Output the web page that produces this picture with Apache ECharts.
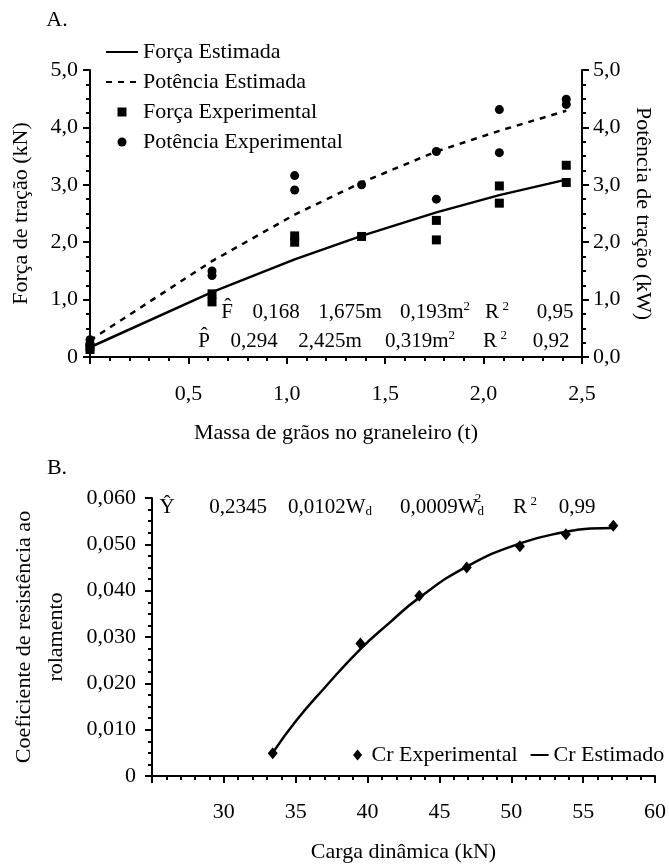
<!DOCTYPE html>
<html>
<head>
<meta charset="utf-8">
<script src="https://cdn.jsdelivr.net/npm/echarts@6/dist/echarts.min.js"></script>
<style>
html,body{margin:0;padding:0;background:#fff;}
#chart{width:669px;height:865px;}
</style>
</head>
<body>
<div id="chart"></div>
<script>
// ---------- Data (chart A) ----------
const massEst = [0, 0.62, 1.04, 1.38, 1.76, 2.08, 2.42];
const forceEst = [0.17, 1.13, 1.70, 2.11, 2.52, 2.82, 3.09];
const powerEst = [0.29, 1.67, 2.48, 3.04, 3.58, 3.94, 4.29];
const forceExpX = [0, 0, 0.62, 0.62, 1.04, 1.04, 1.38, 1.76, 1.76, 2.08, 2.08, 2.42, 2.42];
const forceExpY = [0.13, 0.18, 0.96, 1.10, 2.00, 2.11, 2.10, 2.04, 2.38, 2.68, 2.98, 3.04, 3.34];
const powerExpX = [0, 0, 0.62, 0.62, 1.04, 1.04, 1.38, 1.76, 1.76, 2.08, 2.08, 2.42, 2.42];
const powerExpY = [0.22, 0.30, 1.42, 1.50, 2.91, 3.16, 3.00, 2.75, 3.58, 3.56, 4.31, 4.40, 4.49];
const massTickLabels = ['', '0,5', '1,0', '1,5', '2,0', '2,5'];
const forceTickLabels = ['0', '1,0', '2,0', '3,0', '4,0', '5,0'];
const powerTickLabels = ['0,0', '1,0', '2,0', '3,0', '4,0', '5,0'];

// ---------- Data (chart B) ----------
const loadExp = [33.4, 39.5, 43.6, 46.9, 50.6, 53.8, 57.1];
const crExp = [0.0049, 0.0286, 0.0389, 0.0450, 0.0496, 0.0522, 0.0540];
const loadEst = [33.4, 35.0, 37.0, 39.5, 41.5, 43.6, 46.9, 50.6, 53.8, 55.5, 57.1];
const crEst = [0.0050, 0.0118, 0.0190, 0.0274, 0.0330, 0.0385, 0.0452, 0.0502, 0.0527, 0.0534, 0.0535];
const loadTickLabels = ['', '30', '35', '40', '45', '50', '55', '60'];
const crTickLabels = ['0', '0,010', '0,020', '0,030', '0,040', '0,050', '0,060'];

const FONT = 'Liberation Serif';
const FS = 22;
const pairs = (xs, ys) => xs.map((x, i) => [x, ys[i]]);

function axisCommon(extra) {
  return Object.assign({
    axisLine: {show: true, onZero: false, lineStyle: {color: '#000', width: 2}},
    axisTick: {show: true, inside: false, length: 7, lineStyle: {color: '#000', width: 2}},
    splitLine: {show: false},
    minorSplitLine: {show: false},
    nameTextStyle: {color: '#000', fontFamily: FONT, fontSize: FS},
    nameLocation: 'middle'
  }, extra);
}
const minor = (n) => ({show: true, splitNumber: n, length: 4, lineStyle: {color: '#000', width: 2}});
const lbl = (margin, fmt) => ({color: '#000', fontFamily: FONT, fontSize: FS, margin: margin, formatter: fmt});

const chart = echarts.init(document.getElementById('chart'), null, {renderer: 'canvas'});

const txt = (x, y, rich, text, size) => ({
  type: 'text', x: x, y: y,
  style: {text: text, fontFamily: FONT, fontSize: size || 21, fill: '#000', align: 'center', verticalAlign: 'middle', rich: rich}
});
const supRich = {
  b: {fontFamily: FONT, fontSize: 21, fill: '#000'},
  sup: {fontFamily: FONT, fontSize: 13, verticalAlign: 'top', padding: [0, 0, 10, 0]},
  sub: {fontFamily: FONT, fontSize: 13, padding: [10, 0, 0, 0]}
};
const SQUARE = 'path://M0,0L10,0L10,10L0,10Z';
const DIAMOND = 'path://M5,0L10,6L5,12L0,6Z';
const solid = {color: '#000', opacity: 1};

const option = {
  animation: false,
  backgroundColor: '#fff',
  grid: [
    {left: 90, top: 70, width: 492, height: 287, containLabel: false},
    {left: 147, top: 498, width: 514, height: 278, containLabel: false}
  ],
  xAxis: [
    axisCommon({
      type: 'value', gridIndex: 0, min: 0, max: 2.5, interval: 0.5, minorTick: minor(5),
      axisLabel: lbl(26, (v) => massTickLabels[Math.round(v / 0.5)]),
      name: 'Massa de grãos no graneleiro (t)', nameGap: 65
    }),
    axisCommon({
      type: 'value', gridIndex: 1, min: 25, max: 60, interval: 5, minorTick: minor(5),
      axisLabel: lbl(25, (v) => loadTickLabels[Math.round((v - 25) / 5)]),
      name: 'Carga dinâmica (kN)', nameGap: 65
    })
  ],
  yAxis: [
    axisCommon({
      type: 'value', gridIndex: 0, min: 0, max: 5, interval: 1, position: 'left', minorTick: minor(4),
      axisLabel: lbl(12, (v) => forceTickLabels[Math.round(v)]),
      name: 'Força de tração (kN)', nameGap: 58
    }),
    axisCommon({
      type: 'value', gridIndex: 0, min: 0, max: 5, interval: 1, position: 'right', minorTick: minor(4),
      axisLabel: lbl(11, (v) => powerTickLabels[Math.round(v)]),
      name: 'Potência de tração (kW)', nameGap: 50, nameRotate: -90
    }),
    axisCommon({
      type: 'value', gridIndex: 1, min: 0, max: 0.06, interval: 0.01, position: 'left', minorTick: minor(4),
      axisLabel: lbl(16, (v) => crTickLabels[Math.round(v / 0.01)]),
      name: 'Coeficiente de resistência ao\nrolamento', nameGap: 80,
      nameTextStyle: {color: '#000', fontFamily: FONT, fontSize: FS, lineHeight: 32}
    })
  ],
  legend: [
    {
      orient: 'vertical', left: 105, top: 41, padding: 0, itemWidth: 32, itemHeight: 9, itemGap: 8,
      textStyle: {color: '#000', fontFamily: FONT, fontSize: FS, lineHeight: 22},
      data: [
        {name: 'Força Estimada'},
        {name: 'Potência Estimada'},
        {name: 'Força Experimental', icon: SQUARE},
        {name: 'Potência Experimental', icon: 'circle'}
      ],
      selectedMode: false
    },
    {
      orient: 'horizontal', left: 353, top: 744, width: 400, padding: 0, itemWidth: 18, itemHeight: 11, itemGap: 12,
      textStyle: {color: '#000', fontFamily: FONT, fontSize: FS, lineHeight: 22},
      data: [{name: 'Cr Experimental', icon: DIAMOND}, {name: 'Cr Estimado'}],
      selectedMode: false
    }
  ],
  series: [
    {name: 'Força Estimada', type: 'line', xAxisIndex: 0, yAxisIndex: 0, data: pairs(massEst, forceEst),
      symbol: 'none', lineStyle: {color: '#000', width: 2.5}, itemStyle: {color: '#000', opacity: 0}, z: 2},
    {name: 'Potência Estimada', type: 'line', xAxisIndex: 0, yAxisIndex: 1, data: pairs(massEst, powerEst),
      symbol: 'none', lineStyle: {color: '#000', width: 2.5, type: [6, 6]}, itemStyle: {color: '#000', opacity: 0}, z: 2},
    {name: 'Força Experimental', type: 'scatter', xAxisIndex: 0, yAxisIndex: 0, data: pairs(forceExpX, forceExpY),
      symbol: 'rect', symbolSize: 9, itemStyle: solid, z: 3},
    {name: 'Potência Experimental', type: 'scatter', xAxisIndex: 0, yAxisIndex: 1, data: pairs(powerExpX, powerExpY),
      symbol: 'circle', symbolSize: 9, itemStyle: solid, z: 3},
    {name: 'Cr Experimental', type: 'scatter', xAxisIndex: 1, yAxisIndex: 2, data: pairs(loadExp, crExp),
      symbol: 'diamond', symbolSize: [10, 12], itemStyle: solid, z: 3},
    {name: 'Cr Estimado', type: 'line', xAxisIndex: 1, yAxisIndex: 2, data: pairs(loadEst, crEst),
      smooth: true, symbol: 'none', lineStyle: {color: '#000', width: 2.5}, itemStyle: {color: '#000', opacity: 0}, z: 2}
  ],
  graphic: [
    txt(57, 20, null, 'A.', 22),
    txt(57, 468, null, 'B.', 22),
    // Equation F
    txt(227, 312, null, 'F\u0302'),
    txt(276, 312, null, '0,168'),
    txt(350, 312, null, '1,675m'),
    txt(435, 312, supRich, '{b|0,193m}{sup|2}'),
    txt(497, 312, supRich, '{b|R}{sup| 2}'),
    txt(555, 312, null, '0,95'),
    // Equation P
    txt(204, 341, null, 'P\u0302'),
    txt(254, 341, null, '0,294'),
    txt(330, 341, null, '2,425m'),
    txt(420, 341, supRich, '{b|0,319m}{sup|2}'),
    txt(495, 341, supRich, '{b|R}{sup| 2}'),
    txt(551, 341, null, '0,92'),
    // Equation Y
    txt(167, 507, null, '\u0176'),
    txt(238, 507, null, '0,2345'),
    txt(330, 507, supRich, '{b|0,0102W}{sub|d}'),
    txt(442, 507, supRich, '{b|0,0009W}{sub|d}'),
    txt(478, 499, null, '2', 13),
    txt(525, 507, supRich, '{b|R}{sup| 2}'),
    txt(577, 507, null, '0,99')
  ]
};
chart.setOption(option);
</script>
</body>
</html>
